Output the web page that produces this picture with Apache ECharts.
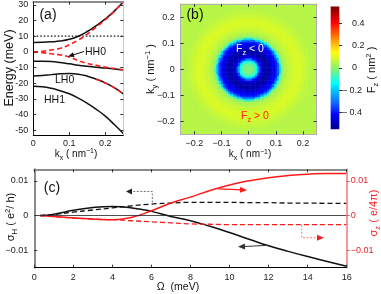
<!DOCTYPE html>
<html><head><meta charset="utf-8">
<script src="https://cdn.jsdelivr.net/npm/echarts@6/dist/echarts.min.js"></script>
<style>html,body{margin:0;padding:0;background:#fff}#c{width:381px;height:294px}</style>
</head><body><div id="c"></div>
<script>
// ---------- Panel (a): band structure ----------
const kx = [0, 0.025, 0.05, 0.075, 0.1, 0.125, 0.15, 0.175, 0.2, 0.225, 0.25];
const bandE1 = [6.0, 6.1, 6.4, 6.9, 8.0, 10.0, 13.0, 16.8, 21.0, 26.0, 32.0];
const bandE2 = [-6.0, -6.0, -6.2, -6.8, -7.6, -8.5, -9.2, -9.8, -10.3, -10.9, -11.5];
const bandLH0 = [-15.3, -15.0, -14.5, -14.0, -13.8, -14.2, -15.5, -17.4, -19.8, -22.8, -26.8];
const bandHH1 = [-21.9, -22.2, -23.2, -24.8, -26.7, -29.5, -32.8, -36.6, -41.0, -46.3, -52.0];
const hh0Up = [0, 0.4, 1.2, 2.3, 4.5, 7.6, 11.3, 15.8, 20.5, 25.8, 32.0];
const hh0Down = [0, -0.5, -1.2, -1.9, -3.2, -5.6, -7.3, -8.6, -9.7, -10.6, -11.4];
const lh0Red = [null, null, null, null, null, null, null, -17.5, -19.9, -22.9, -26.9];
const fermiLevel = 10;
const aXTicks = [0, 0.1, 0.2];
const aYTicks = [-50, -40, -30, -20, -10, 0, 10, 20, 30];

// ---------- Panel (b): Berry curvature radial profile ----------
const fzRadiusStep = 0.005;
const fzProfile = [
  0.00, 0.00, -0.01, -0.02, -0.04, -0.07, -0.12, -0.22, -0.32, -0.41,
  -0.46, -0.49, -0.51, -0.52, -0.52, -0.51, -0.49, -0.47, -0.45, -0.43,
  -0.41, -0.37, -0.30, -0.19, -0.07, 0.00, 0.03, 0.04, 0.05, 0.06,
  0.07, 0.07, 0.08, 0.08, 0.09, 0.09, 0.09, 0.09, 0.09, 0.08,
  0.08, 0.07, 0.07, 0.06, 0.06, 0.06, 0.05, 0.05, 0.05, 0.05,
  0.05, 0.05, 0.05, 0.05, 0.05, 0.05, 0.05, 0.05, 0.05, 0.05,
  0.05, 0.05, 0.05, 0.05, 0.05, 0.05, 0.05, 0.05, 0.05, 0.05,
  0.05, 0.05, 0.05];
const bTicks = [-0.2, -0.1, 0, 0.1, 0.2];
const cbTicks = [-0.4, -0.2, 0, 0.2, 0.4];

// ---------- Panel (c): conductivities ----------
const omega = [0.3, 1, 2, 3, 4, 5, 6, 7, 8, 9, 10, 11, 12, 13, 14, 15, 16];
const sigmaHSolid = [0, 0.0004, 0.0015, 0.0023, 0.0026, 0.0022, 0.0012, -0.0003, -0.0015, -0.0031, -0.0049, -0.0068, -0.0087, -0.0103, -0.0118, -0.0132, -0.0146];
const sigmaHDashed = [0, 0.0003, 0.0010, 0.0016, 0.0022, 0.0028, 0.0033, 0.0036, 0.0038, 0.0038, 0.0038, 0.0037, 0.0037, 0.0036, 0.0036, 0.0035, 0.0035];
const sigmaZSolid = [0, -0.0003, -0.0007, -0.0010, -0.0012, -0.0005, 0.0014, 0.0036, 0.0053, 0.0072, 0.0088, 0.0100, 0.0109, 0.0115, 0.0119, 0.0121, 0.0121];
const sigmaZDashed = [0, -0.0003, -0.0007, -0.0010, -0.0012, -0.0015, -0.0018, -0.0021, -0.0024, -0.0025, -0.0026, -0.0026, -0.0026, -0.0026, -0.0026, -0.0026, -0.0026];
const cYTicks = [-0.01, 0, 0.01];

// ---------- build ----------
const NF = "'Liberation Sans Narrow','Liberation Sans',Arial,sans-serif";
const RF = "'Liberation Sans',Arial,sans-serif";
const pairs = (xs, ys) => xs.map((x, i) => [x, ys[i]]);
const minus = v => String(v).replace('-', '\u2212');

const N = 80, d = 0.5 / N;
const heat = [];
for (let i = 0; i < N; i++) for (let j = 0; j < N; j++) {
  const x = -0.25 + (i + 0.5) * d, y = -0.25 + (j + 0.5) * d;
  const idx = Math.min(fzProfile.length - 1, Math.round(Math.sqrt(x * x + y * y) / fzRadiusStep));
  heat.push([i, j, fzProfile[idx]]);
}
const M = 120, cbMin = -0.55, cbMax = 0.55;
const cbData = [];
for (let j = 0; j < M; j++) cbData.push([0, j, cbMin + (j + 0.5) * (cbMax - cbMin) / M]);
const idxs = n => Array.from({length: n}, (_, i) => i);

const tickLab = (extra) => Object.assign({fontFamily: NF, fontSize: 9, color: '#222'}, extra || {});
function vAxis(o) {
  const a = {
    type: 'value', gridIndex: o.g, position: o.pos, min: o.min, max: o.max, z: 10,
    axisLine: {show: true, onZero: false, lineStyle: {color: o.lc || '#000', width: o.lw || 1}},
    axisTick: {show: true, inside: o.inside !== false, length: 3, customValues: o.ticks, lineStyle: {color: o.tc || '#333'}},
    axisLabel: o.label ? Object.assign({show: true, customValues: o.ticks, margin: o.margin || 4}, tickLab(o.labExtra)) : {show: false},
    splitLine: {show: false}
  };
  if (o.interval) { a.interval = o.interval; delete a.axisTick.customValues; if (a.axisLabel.customValues) delete a.axisLabel.customValues; }
  return a;
}

const xAxis = [
  vAxis({g: 0, pos: 'bottom', min: 0, max: 0.25, ticks: aXTicks, label: true, margin: 4}),
  vAxis({g: 0, pos: 'top', min: 0, max: 0.25, ticks: aXTicks, lc: '#8a8a8a', lw: 2}),
  {type: 'category', gridIndex: 1, data: idxs(N), show: false},
  vAxis({g: 2, pos: 'bottom', min: -0.25, max: 0.25, ticks: bTicks, label: true, lc: '#b0b0b0', margin: 5, labExtra: {formatter: minus}}),
  vAxis({g: 2, pos: 'top', min: -0.25, max: 0.25, ticks: bTicks, lc: '#b0b0b0'}),
  {type: 'category', gridIndex: 3, data: ['c'], show: false},
  {type: 'value', gridIndex: 4, min: 0, max: 1, show: false},
  vAxis({g: 5, pos: 'bottom', min: 0, max: 16, interval: 2, label: true, margin: 5}),
  vAxis({g: 5, pos: 'top', min: 0, max: 16, interval: 2, lc: '#8a8a8a', lw: 2})
];
const cbRich = {
  p: {fontFamily: NF, fontSize: 9, color: '#222', padding: [0, 0, 0, 10]},
  n: {fontFamily: NF, fontSize: 9, color: '#222'}
};
const yAxis = [
  vAxis({g: 0, pos: 'left', min: -53, max: 32, ticks: aYTicks, label: true, margin: 5}),
  vAxis({g: 0, pos: 'right', min: -53, max: 32, ticks: aYTicks, lc: '#c8c8c8'}),
  {type: 'category', gridIndex: 1, data: idxs(N), show: false},
  vAxis({g: 2, pos: 'left', min: -0.25, max: 0.25, ticks: bTicks, label: true, lc: '#b0b0b0', margin: 6, labExtra: {formatter: minus}}),
  vAxis({g: 2, pos: 'right', min: -0.25, max: 0.25, ticks: bTicks, lc: '#b0b0b0'}),
  {type: 'category', gridIndex: 3, data: idxs(M), show: false},
  vAxis({g: 4, pos: 'right', min: cbMin, max: cbMax, ticks: cbTicks, label: true, inside: false, margin: 3,
    labExtra: {align: 'left', formatter: v => v >= 0 ? '{p|' + v + '}' : '{n|\u2013 ' + String(-v) + '}', rich: cbRich}}),
  vAxis({g: 5, pos: 'left', min: -0.015, max: 0.0133, ticks: cYTicks, label: true, lc: '#8a8a8a', lw: 2, margin: 6, labExtra: {formatter: minus}}),
  vAxis({g: 5, pos: 'right', min: -0.015, max: 0.0133, ticks: cYTicks, label: true, inside: false, lc: '#f07878', lw: 1.5, tc: '#f05050', margin: 4,
    labExtra: {color: '#ee2222', formatter: minus}})
];
yAxis[6].axisLine.show = false;

const blk = '#111', red = '#ff1a1a';
const ln = (x, y, data, color, type, w, extra) => Object.assign({
  type: 'line', xAxisIndex: x, yAxisIndex: y, data, showSymbol: false, symbol: 'none', smooth: true,
  lineStyle: {color, type: type || 'solid', width: w || 1.5}, silent: true, z: 3
}, extra || {});

const series = [
  ln(0, 0, pairs(kx, bandE1), blk),
  ln(0, 0, pairs(kx, bandE2), blk),
  ln(0, 0, pairs(kx, bandLH0), blk),
  ln(0, 0, pairs(kx, bandHH1), blk),
  ln(0, 0, [[0, fermiLevel], [0.25, fermiLevel]], blk, [1.5, 2], 1.3, {smooth: false}),
  ln(0, 0, pairs(kx, hh0Up), red, [5, 3], 1.6, {z: 4}),
  ln(0, 0, pairs(kx, hh0Down), red, [5, 3], 1.6, {z: 4}),
  ln(0, 0, pairs(kx, lh0Red), red, [5, 3], 1.4, {z: 4}),
  {type: 'heatmap', xAxisIndex: 2, yAxisIndex: 2, data: heat, progressive: 0, silent: true, itemStyle: {borderWidth: 0}},
  {type: 'heatmap', xAxisIndex: 5, yAxisIndex: 5, data: cbData, progressive: 0, silent: true, itemStyle: {borderWidth: 0}},
  ln(7, 7, pairs(omega, sigmaHSolid), blk, 'solid', 1.5, {markLine: {silent: true, symbol: 'none', label: {show: false},
    lineStyle: {color: '#222', width: 0.8, type: 'solid'}, data: [{yAxis: 0}]}}),
  ln(7, 7, pairs(omega, sigmaHDashed), blk, [5, 3], 1.3),
  ln(7, 8, pairs(omega, sigmaZSolid), red, 'solid', 1.5),
  ln(7, 8, pairs(omega, sigmaZDashed), red, [5, 3], 1.3)
];

// ---------- annotations ----------
function arrow(pts, lineColor, headColor, dash, w, L, W) {
  const n = pts.length, p = pts[n - 1], q = pts[n - 2];
  const dx = p[0] - q[0], dy = p[1] - q[1], len = Math.hypot(dx, dy), ux = dx / len, uy = dy / len;
  const bx = p[0] - L * ux, by = p[1] - L * uy;
  const linePts = pts.slice(0, n - 1).concat([[bx + ux, by + uy]]);
  return [
    {type: 'polyline', z: 100, silent: true, shape: {points: linePts}, style: {stroke: lineColor, lineWidth: w, lineDash: dash || null, fill: null}},
    {type: 'polygon', z: 100, silent: true, shape: {points: [p, [bx - W * uy, by + W * ux], [bx + W * uy, by - W * ux]]}, style: {fill: headColor}}
  ];
}
function txt(x, y, text, size, color, align) {
  return {type: 'text', z: 100, silent: true, x, y,
    style: {text, fontFamily: NF, fontSize: size, fill: color || '#111', align: align || 'center', verticalAlign: 'middle'}};
}
function rich(size, color, fam) {
  const s = size, f = fam || NF;
  return {
    t: {fontFamily: f, fontSize: s, fill: color, verticalAlign: 'bottom', padding: [0, 0, 2, 0]},
    s: {fontFamily: f, fontSize: s * 0.7, fill: color, verticalAlign: 'bottom', padding: [0, 0, 0, 0]},
    p: {fontFamily: f, fontSize: s * 0.7, fill: color, verticalAlign: 'bottom', padding: [0, 0, s * 0.62, 0]}
  };
}
function rtxt(x, y, text, size, color, rot, fam) {
  return {type: 'text', z: 100, silent: true, x, y, rotation: rot || 0,
    style: {text, rich: rich(size, color, fam), fontFamily: fam || NF, fontSize: size, fill: color, align: 'center', verticalAlign: 'middle'}};
}
const R90 = Math.PI / 2;
const graphic = [].concat(
  txt(48, 15, '(a)', 14),
  txt(85, 52, 'HH0', 10.5, '#111', 'left'),
  arrow([[84, 51.5], [68, 56.5]], '#111', '#111', null, 1, 6, 2.5),
  txt(55, 80.5, 'LH0', 10.5, '#111', 'left'),
  txt(44, 100.5, 'HH1', 10.5, '#111', 'left'),
  rtxt(10, 68, 'Energy (meV)', 12.5, '#111', R90, RF),
  rtxt(76, 154.5, '{t|k}{s|x}{t| ( nm}{p|\u22121}{t|)}', 10, '#111'),
  txt(195, 15, '(b)', 14),
  rtxt(250, 50, '{t|F}{s|z}{t| < 0}', 10.5, '#ffffff'),
  rtxt(255, 117, '{t|F}{s|z}{t| > 0}', 10.5, '#ff2020'),
  rtxt(151, 69, '{t|k}{s|y}{t| ( nm}{p|\u22121}{t| )}', 11, '#111', R90, RF),
  rtxt(250, 155, '{t|k}{s|x}{t| ( nm}{p|\u22121}{t|)}', 10, '#111'),
  rtxt(372, 70, '{t|F}{s|z}{t| ( nm}{p|2}{t| )}', 11, '#111', R90, RF),
  txt(52, 188, '(c)', 14),
  rtxt(11, 217, '{t|\u03c3}{s|H}{t| ( e}{p|2}{t|/ h)}', 11, '#111', R90, RF),
  rtxt(375, 213, '{t|\u03c3}{s|z}{t| ( e/4\u03c0)}', 11, '#ff2020', R90, RF),
  txt(178, 287, '\u03a9  (meV)', 10.5),
  arrow([[152.3, 202.5], [152.3, 191.5], [126, 191.5]], '#777', '#222', [2, 1.5], 1, 6, 3),
  arrow([[218, 188.8], [232, 189.4], [247, 190.2]], red, red, null, 1.2, 7, 3),
  arrow([[301.7, 225], [301.7, 237.7], [324, 237.7]], '#ff7a7a', red, [2, 1.5], 1, 7, 3),
  arrow([[268, 245.3], [238, 246.8]], '#333', '#333', null, 1, 7, 3)
);

const option = {
  animation: false,
  backgroundColor: '#fff',
  grid: [
    {left: 33.3, top: 1.7, width: 90, height: 133.3},
    {left: 180.7, top: 4, width: 136, height: 130.3},
    {left: 180.7, top: 4, width: 136, height: 130.3},
    {left: 331, top: 6.7, width: 8, height: 122.3},
    {left: 331, top: 6.7, width: 8, height: 122.3},
    {left: 34.3, top: 169.3, width: 312.4, height: 98.4}
  ],
  xAxis, yAxis,
  visualMap: {show: false, type: 'continuous', seriesIndex: [8, 9], dimension: 2, min: cbMin, max: cbMax,
    inRange: {color: ['#00008f', '#0000ff', '#0080ff', '#00ffff', '#8cf06c', '#ffff00', '#ff8000', '#ff0000', '#800000']}},
  series, graphic
};
const chart = echarts.init(document.getElementById('c'), null, {renderer: 'canvas'});
chart.setOption(option);
</script></body></html>
